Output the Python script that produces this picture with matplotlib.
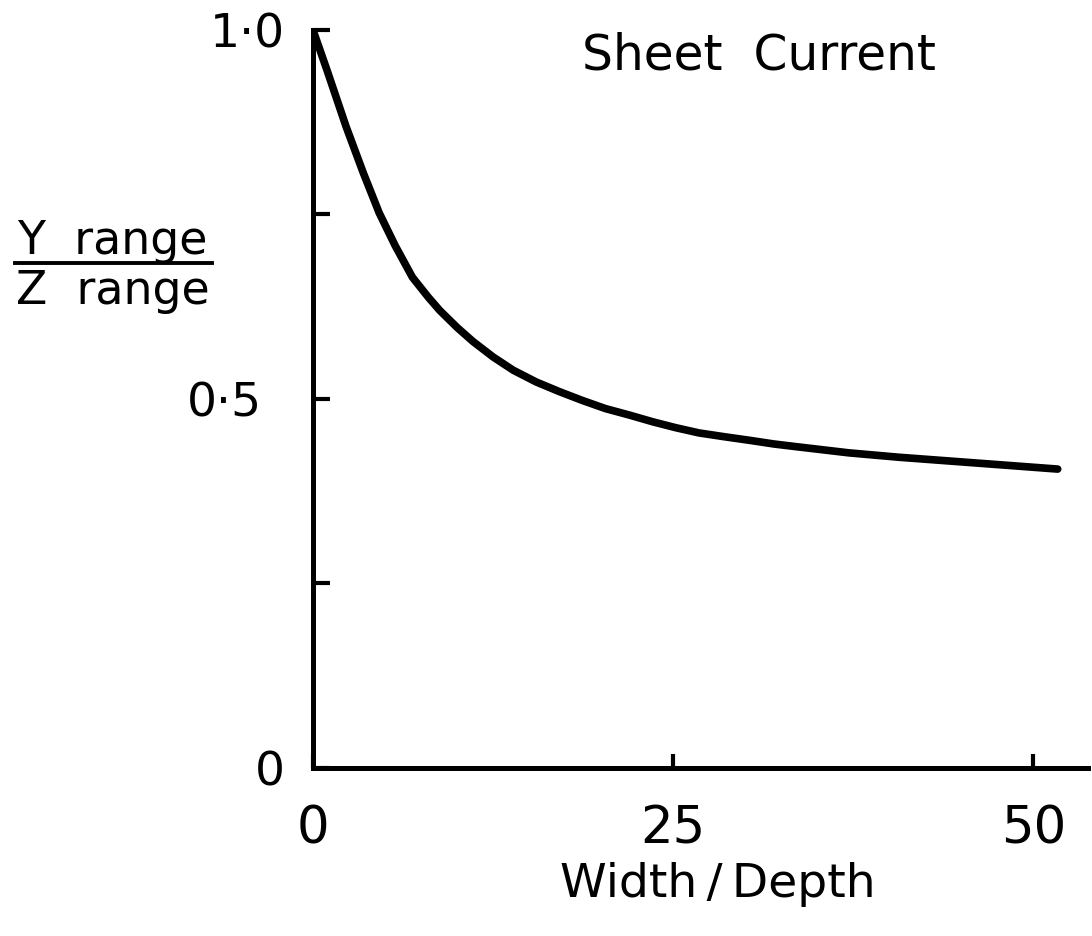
import matplotlib
matplotlib.use("Agg")
import matplotlib.pyplot as plt
from matplotlib.lines import Line2D
from matplotlib.transforms import ScaledTranslation

# ratio of ranges against width/depth for a sheet current
width_depth = [0.0, 1.0, 2.3, 3.5, 4.6, 5.7, 6.9, 8.0, 8.8, 10.0, 11.1, 12.5,
               13.9, 15.5, 17.1, 18.7, 20.3, 22.0, 23.6, 25.2, 26.8, 28.5,
               30.3, 32.0, 33.7, 37.2, 40.7, 43.8, 46.9, 49.3, 51.7]
range_ratio = [1.0, 0.944, 0.869, 0.806, 0.752, 0.708, 0.665, 0.638, 0.620, 0.597,
               0.578, 0.557, 0.539, 0.523, 0.510, 0.498, 0.487, 0.478, 0.469,
               0.461, 0.454, 0.449, 0.444, 0.439, 0.435, 0.427, 0.421, 0.4165,
               0.412, 0.4085, 0.405]

y_ticks = [0, 0.25, 0.5, 0.75, 1.0]
y_ticklabels = ["0", "", "0·5", "", "1·0"]
x_ticks = [0, 25, 50]
x_ticklabels = ["0", "25", "50"]

plt.rcParams["font.family"] = ["DejaVu Sans"]

fig = plt.figure(figsize=(10.92, 9.36), dpi=100)
ax = fig.add_axes([0.2866, 0.1795, 0.7097, 0.7885])

ax.plot(width_depth, range_ratio, color="black", lw=5.5, solid_capstyle="round",
        solid_joinstyle="round")

ax.set_xlim(0, 53.8)
ax.set_ylim(0, 1.0)

for side in ["top", "right"]:
    ax.spines[side].set_visible(False)
for side in ["left", "bottom"]:
    ax.spines[side].set_linewidth(3.6)

ax.set_yticks(y_ticks)
ax.set_yticklabels(y_ticklabels, fontsize=34)
ax.set_xticks(x_ticks)
ax.set_xticklabels(x_ticklabels, fontsize=37)
ax.tick_params(axis="y", direction="in", length=12, width=3, pad=20)
ax.tick_params(axis="x", direction="in", length=10, width=3, pad=26)

# the middle label sits further out from the axis
for lab in ax.get_yticklabels():
    if lab.get_text() == "0·5":
        lab.set_transform(lab.get_transform() +
                          ScaledTranslation(-0.23, 0, fig.dpi_scale_trans))

ax.set_xlabel("Width\u2009/\u2009Depth", fontsize=34)
ax.xaxis.set_label_coords(0.5226, -0.128)

ax.text(0.5755, 0.966, "Sheet  Current", transform=ax.transAxes,
        fontsize=35, ha="center", va="center")

# y label drawn as a fraction
fig.text(0.103, 1 - 254 / 936, "Y  range", fontsize=33, ha="center", va="baseline")
fig.text(0.103, 1 - 304 / 936, "Z  range", fontsize=33, ha="center", va="baseline")
fig.add_artist(Line2D([0.0137, 0.194], [1 - 263 / 936, 1 - 263 / 936], color="black",
                      lw=2.8, transform=fig.transFigure))

fig.savefig("out.png", dpi=100)
